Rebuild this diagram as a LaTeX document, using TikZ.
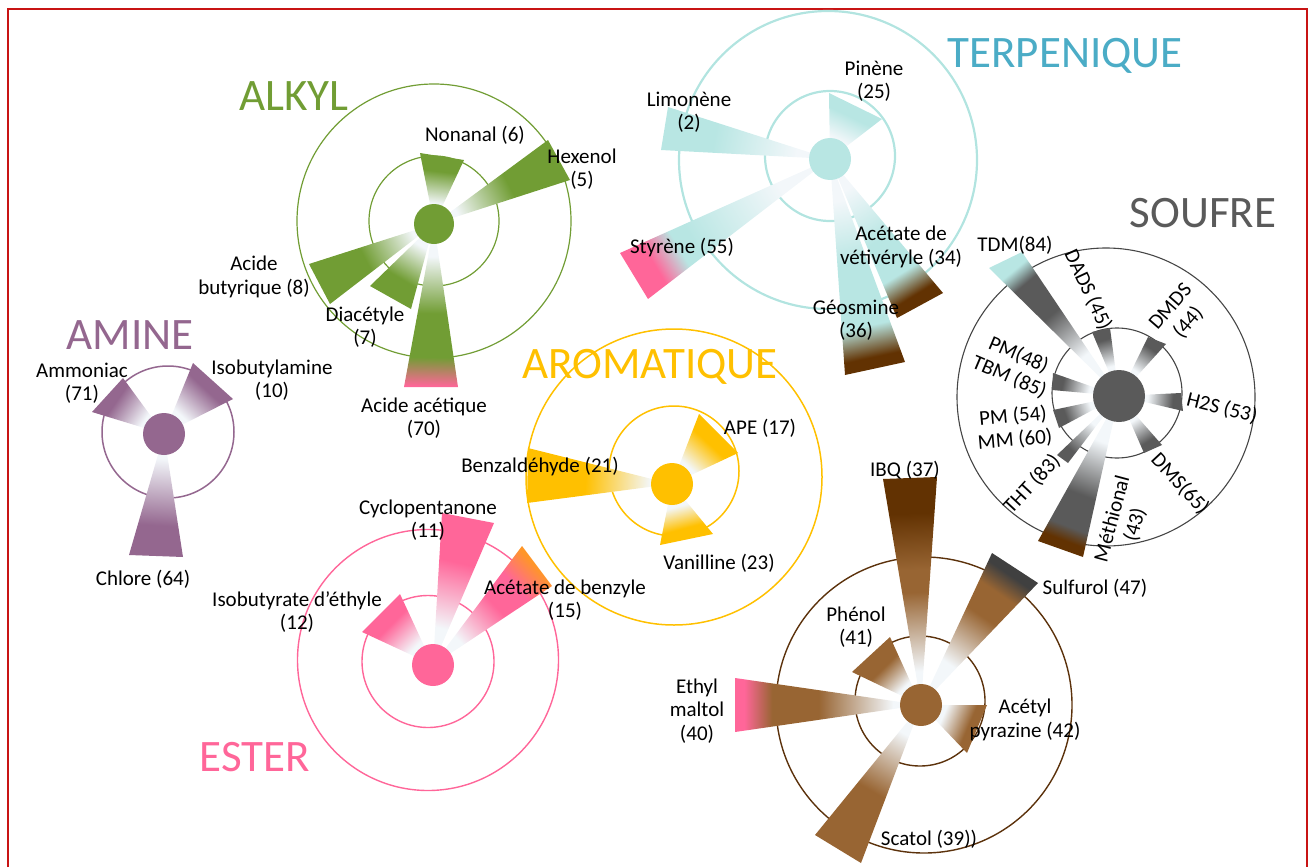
\documentclass[tikz,border=0pt]{standalone}
\usepackage{fontspec}
\setmainfont{Carlito}
\definecolor{alkg}{RGB}{113,157,52}
\definecolor{terpc}{RGB}{184,230,227}
\definecolor{terpl}{RGB}{178,228,224}
\definecolor{terpt}{RGB}{75,172,198}
\definecolor{souf}{RGB}{90,90,90}
\definecolor{soufl}{RGB}{70,70,70}
\definecolor{amin}{RGB}{148,103,143}
\definecolor{arom}{RGB}{255,192,0}
\definecolor{est}{RGB}{255,102,153}
\definecolor{estor}{RGB}{255,150,40}
\definecolor{brw}{RGB}{152,101,51}
\definecolor{brwd}{RGB}{98,50,2}
\definecolor{brwl}{RGB}{92,50,12}
\definecolor{sulf}{RGB}{64,64,64}
\definecolor{redframe}{RGB}{200,20,20}
\definecolor{pale}{RGB}{243,247,250}
\makeatletter
\def\pt@xy#1,#2\@nil#3#4{\def#3{#1}\def#4{#2}}
\def\pt@three#1/#2/#3\@nil{\def\pcA{#1}\def\pcB{#2}\def\pcC{#3}}
\def\pt@four#1/#2/#3/#4\@nil{\def\pfA{#1}\def\pfB{#2}\def\pfC{#3}\def\pfD{#4}}
\newcount\petalno
\newcommand\petal[5]{%
  \pt@xy#1\@nil\pcx\pcy
  \pt@xy#2\@nil\pax\pay
  \pt@xy#3\@nil\pbx\pby
  \pt@three#4\@nil
  \pt@four#5\@nil
  \pgfmathsetmacro\pmx{(\pax+\pbx)/2-\pcx}%
  \pgfmathsetmacro\pmy{(\pay+\pby)/2-\pcy}%
  \pgfmathsetmacro\pang{atan2(-1*(\pmy),\pmx)}%
  \pgfmathsetmacro\pL{veclen(\pmx,\pmy)}%
  \pgfmathsetmacro\pR{max(veclen(\pax-\pcx,\pay-\pcy),veclen(\pbx-\pcx,\pby-\pcy))+2}%
  \pgfmathsetmacro\pk{25*\pL/\pR}%
  \pgfmathsetmacro\psA{50+\pk*\pfA}%
  \pgfmathsetmacro\psB{50+\pk*\pfB}%
  \pgfmathsetmacro\psC{50+\pk*\pfC}%
  \pgfmathsetmacro\psD{50+\pk*\pfD}%
  \global\advance\petalno by 1
  \edef\pname{petal\the\petalno}%
  \edef\pdo{\noexpand\pgfdeclarehorizontalshading{\pname}{100bp}{color(0bp)=(\pcA); color(\psA bp)=(\pcA); color(\psB bp)=(\pcB); color(\psC bp)=(\pcB); color(\psD bp)=(\pcC); color(100bp)=(\pcC)}}%
  \pdo
  \shade[shading=\pname,shading angle=\pang] (\pcx-\pR,\pcy-\pR) (\pcx+\pR,\pcy+\pR) (\pcx,\pcy) -- (\pax,\pay) -- (\pbx,\pby) -- cycle;
}
\makeatother
\begin{document}
\begin{tikzpicture}[x=1pt,y=-1pt,
  lab/.style={font=\fontsize{21}{23.5}\selectfont,align=center,inner sep=0pt},
  ttl/.style={font=\fontsize{45}{48}\selectfont,inner sep=0pt},
  hub/.style={circle,inner sep=0pt,minimum size=#1}]
\useasboundingbox (0,0) rectangle (1308,867);
\draw[redframe,line width=2pt] (8,867) -- (8,9) -- (1307,9) -- (1307,867);

% rings
\draw[alkg,line width=1.2pt] (434,221) circle[radius=65pt] (434,221) circle[radius=137pt];
\draw[terpl,line width=2.2pt] (830,156) circle[radius=65pt] (828,160) circle[radius=149pt];
\draw[soufl,line width=1.1pt] (1117,393) circle[radius=65pt] (1106,397) circle[radius=149pt];
\draw[amin,line width=1.5pt] (168,432) circle[radius=66pt];
\draw[arom,line width=1.5pt] (674,471) circle[radius=65pt] (674,477) circle[radius=148pt];
\draw[est,line width=1.4pt] (428,661.5) circle[radius=66pt] (428,660) circle[radius=130.5pt];
\draw[brwl,line width=1.4pt] (920,701) circle[radius=65pt] (924,705) circle[radius=148pt];

% ALKYL
\petal{434,224}{420,153}{464,160}{pale/alkg/alkg}{0.3/0.78/0.9/0.95}
\petal{434,224}{548,140}{570,180}{pale/alkg/alkg}{0.18/0.6/0.9/0.95}
\petal{434,224}{309,264}{330,304}{pale/alkg/alkg}{0.18/0.6/0.9/0.95}
\petal{434,224}{370,286}{411,309}{pale/alkg/alkg}{0.3/0.75/0.9/0.95}
\petal{434,224}{404,387}{458,387}{pale/alkg/est}{0.2/0.55/0.82/1.0}
% TERPENIQUE
\petal{830,159}{668,107}{661,150}{pale/terpc/terpc}{0.2/0.7/0.9/0.95}
\petal{830,159}{829,93}{882,119}{pale/terpc/terpc}{0.35/0.8/0.9/0.95}
\petal{830,159}{620,253}{648,299}{pale/terpc/est}{0.25/0.7/0.77/0.9}
\petal{830,159}{845,375}{905,362}{pale/terpc/brwd}{0.2/0.5/0.8/0.95}
\petal{830,159}{897,318}{943,293}{pale/terpc/brwd}{0.2/0.55/0.78/0.93}
% SOUFRE
\petal{1119,396}{989,268}{1022,252}{pale/souf/terpc}{0.3/0.6/0.83/0.93}
\petal{1119,396}{1092,332}{1110,328}{pale/souf/souf}{0.45/0.85/0.9/0.95}
\petal{1119,396}{1148,337}{1166,344}{pale/souf/souf}{0.45/0.85/0.9/0.95}
\petal{1119,396}{1181,393}{1183,411}{pale/souf/souf}{0.45/0.85/0.9/0.95}
\petal{1119,396}{1144,453}{1162,445}{pale/souf/souf}{0.45/0.85/0.9/0.95}
\petal{1119,396}{1038,541}{1083,557}{pale/souf/brwd}{0.3/0.65/0.86/0.95}
\petal{1119,396}{1057,455}{1068,463}{pale/souf/souf}{0.45/0.85/0.9/0.95}
\petal{1119,396}{1053,410}{1059,428}{pale/souf/souf}{0.45/0.85/0.9/0.95}
\petal{1119,396}{1053,373}{1052,390}{pale/souf/souf}{0.45/0.85/0.9/0.95}
% AMINE
\petal{164,434}{92,412}{123,378}{pale/amin/amin}{0.35/0.85/0.9/0.95}
\petal{164,434}{193,363}{233,399}{pale/amin/amin}{0.35/0.85/0.9/0.95}
\petal{164,434}{129,555}{183,557}{pale/amin/amin}{0.2/0.75/0.9/0.95}
% AROMATIQUE
\petal{672,484}{699,414}{738,453}{pale/arom/arom}{0.35/0.8/0.9/0.95}
\petal{672,484}{528,448}{527,503}{pale/arom/arom}{0.15/0.6/0.9/0.95}
\petal{672,484}{660,545}{713,534}{pale/arom/arom}{0.4/0.8/0.9/0.95}
% ESTER
\petal{433,665}{362,632}{400,594}{pale/est/est}{0.35/0.8/0.9/0.95}
\petal{433,665}{442,513}{494,523}{pale/est/est}{0.25/0.7/0.9/0.95}
\petal{433,665}{522,546}{552,586}{pale/est/estor}{0.25/0.6/0.8/1.0}
% BRUN
\petal{921,705}{883,479}{937,477}{pale/brw/brwd}{0.15/0.5/0.6/0.85}
\petal{921,705}{992,553}{1038,583}{pale/brw/sulf}{0.3/0.65/0.82/0.95}
\petal{921,705}{852,672}{890,637}{pale/brw/brw}{0.35/0.75/0.9/0.95}
\petal{921,705}{735,678}{735,732}{pale/brw/est}{0.15/0.55/0.8/0.95}
\petal{921,705}{987,705}{967,753}{pale/brw/brw}{0.4/0.85/0.9/0.95}
\petal{921,705}{815,835}{861,863}{pale/brw/brw}{0.2/0.6/0.9/0.95}

% hubs
\node[hub=40pt,fill=alkg] (alk) at (434,224) {};
\node[hub=42pt,fill=terpc] (terp) at (830,159) {};
\node[hub=52pt,fill=souf] (soufhub) at (1119,396) {};
\node[hub=42pt,fill=amin] (amine) at (164,434) {};
\node[hub=42pt,fill=arom] (aroma) at (672,484) {};
\node[hub=42pt,fill=est] (ester) at (433,665) {};
\node[hub=42pt,fill=brw] (brun) at (921,705) {};

% titles
\node[ttl,text=alkg] (t-alk) at (294,96) {ALKYL};
\node[ttl,text=terpt] (t-terp) at (1065,56) {TERPENIQUE};
\node[ttl,text=souf] (t-souf) at (1203,213) {SOUFRE};
\node[ttl,text=amin] (t-amin) at (130,335) {AMINE};
\node[ttl,text=arom] (t-arom) at (650,367) {AROMATIQUE};
\node[ttl,text=est] (t-est) at (255,757) {ESTER};

% labels ALKYL
\node[lab] (l-nonanal) at (475,135) {Nonanal (6)};
\node[lab] (l-hexenol) at (582,169) {Hexenol\\(5)};
\node[lab] (l-butyr) at (254,277) {Acide\\butyrique (8)};
\node[lab] (l-diac) at (365,327) {Diacétyle\\(7)};
\node[lab] (l-acet) at (424,418) {Acide acétique\\(70)};
% labels TERPENIQUE
\node[lab] (l-limo) at (689,112) {Limonène\\(2)};
\node[lab] (l-pine) at (874,81) {Pinène\\(25)};
\node[lab] (l-styr) at (682,248) {Styrène (55)};
\node[lab] (l-veti) at (901,247) {Acétate de\\vétivéryle (34)};
\node[lab] (l-geos) at (856,320) {Géosmine\\(36)};
% labels SOUFRE
\node[lab] (l-tdm) at (1015,245) {TDM(84)};
\node[lab,rotate=-65] (l-dads) at (1088,290) {DADS (45)};
\node[lab,rotate=49] (l-dmds) at (1180,315) {DMDS\\(44)};
\node[lab,rotate=-14] (l-h2s) at (1222,408) {H2S (53)};
\node[lab,rotate=-47] (l-dms) at (1180,484) {DMS(65)};
\node[lab,rotate=75] (l-meth) at (1124,522) {Méthional\\(43)};
\node[lab,rotate=47] (l-tht) at (1032,484) {THT (83)};
\node[lab,rotate=5] (l-pm54) at (1014,428) {PM (54)\\MM (60)};
\node[lab,rotate=-23] (l-pm48) at (1014,366) {PM(48)\\TBM (85)};
% labels AMINE
\node[lab] (l-ammo) at (82,383) {Ammoniac\\(71)};
\node[lab] (l-isoa) at (272,380) {Isobutylamine\\(10)};
\node[lab] (l-chlo) at (143,579) {Chlore (64)};
% labels AROMATIQUE
\node[lab] (l-ape) at (760,428) {APE (17)};
\node[lab] (l-benz) at (540,467) {Benzaldéhyde (21)};
\node[lab] (l-vani) at (719,563) {Vanilline (23)};
% labels ESTER
\node[lab] (l-cycl) at (428,520) {Cyclopentanone\\(11)};
\node[lab] (l-isob) at (297,612) {Isobutyrate d’éthyle\\(12)};
\node[lab] (l-bzac) at (565,600) {Acétate de benzyle\\(15)};
% labels BRUN
\node[lab] (l-ibq) at (905,470) {IBQ (37)};
\node[lab] (l-sulf) at (1095,588) {Sulfurol (47)};
\node[lab] (l-phen) at (856,627) {Phénol\\(41)};
\node[lab] (l-ethm) at (697,711) {Ethyl\\maltol\\(40)};
\node[lab] (l-acpy) at (1025,720) {Acétyl\\pyrazine (42)};
\node[lab] (l-scat) at (929,839) {Scatol (39))};
\end{tikzpicture}
\end{document}
